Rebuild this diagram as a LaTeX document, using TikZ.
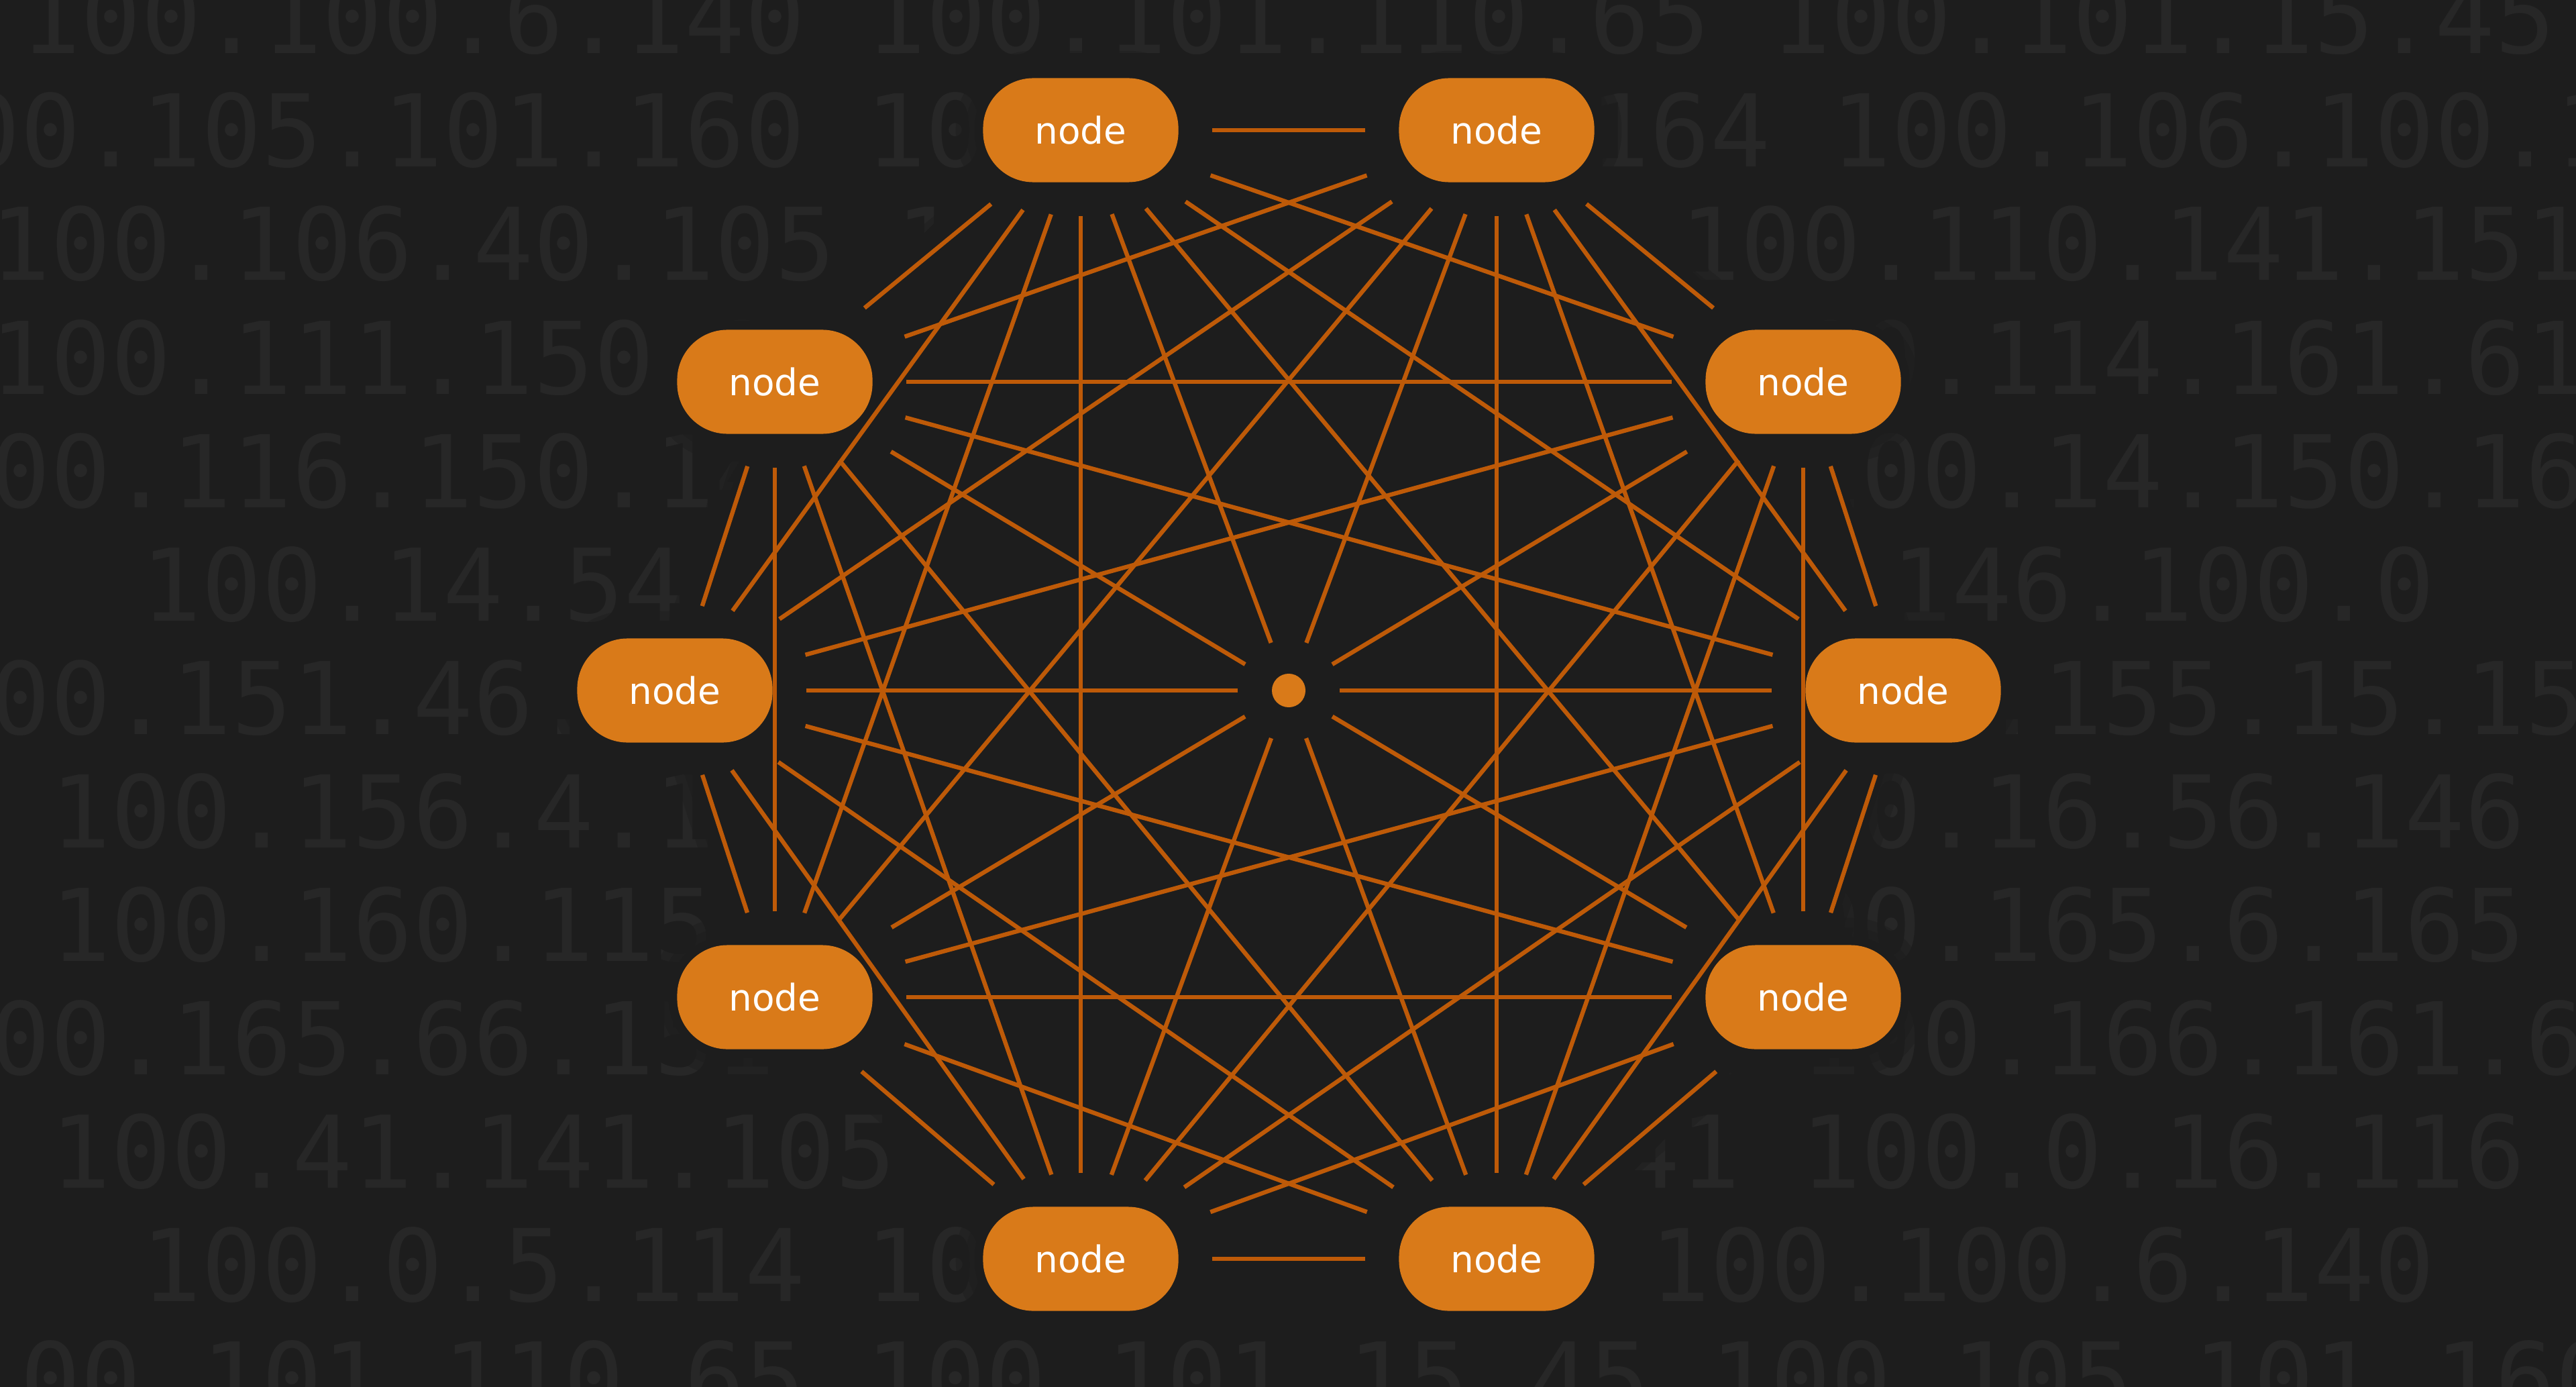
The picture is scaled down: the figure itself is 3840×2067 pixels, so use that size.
\documentclass[tikz,border=0pt]{standalone}
\usepackage{fontspec}
\setmainfont{DejaVu Sans}
\newfontfamily\ipfont{DejaVu Sans Mono}
\definecolor{canvas}{HTML}{1D1D1D}
\definecolor{iptext}{HTML}{272727}
\definecolor{peerfill}{HTML}{D97A19}
\definecolor{linkcol}{HTML}{BE5A08}
\pgfdeclarelayer{back}
\pgfsetlayers{back,main}

\begin{document}
\begin{tikzpicture}[x=0.01cm, y=-0.01cm,
  peer/.style={fill=peerfill, text=white, rounded corners=0.75cm, minimum width=2.91cm, minimum height=1.55cm, inner sep=0pt, font=\fontsize{15.6}{18}\selectfont},
  hub/.style={circle, fill=peerfill, minimum size=0.5cm, inner sep=0pt},
  link/.style={draw=linkcol, line width=1.8pt, shorten >=0.5cm, shorten <=0.5cm},
  iprow/.style={text=iptext, anchor=base, inner sep=0pt, font=\ipfont\fontsize{42.5}{50}\selectfont},
  veil/.style={draw=canvas, line join=round}]
\useasboundingbox (0,0) rectangle (3840,2067);

% ring of peers, clockwise from the right
\node[peer] (n0) at (2837,1029) {node};
\node[peer] (n1) at (2688,1486) {node};
\node[peer] (n2) at (2231,1876) {node};
\node[peer] (n3) at (1611,1876) {node};
\node[peer] (n4) at (1155,1486) {node};
\node[peer] (n5) at (1006,1029) {node};
\node[peer] (n6) at (1155,569) {node};
\node[peer] (n7) at (1611,194) {node};
\node[peer] (n8) at (2231,194) {node};
\node[peer] (n9) at (2688,569) {node};
\node[hub] (hub) at (1921,1029) {};

% full mesh; opposite peers meet at the hub
\foreach \i in {0,...,8}{
  \pgfmathtruncatemacro{\first}{\i+1}
  \foreach \j in {\first,...,9}{
    \pgfmathtruncatemacro{\gap}{\j-\i}
    \ifnum\gap=5\else\draw[link] (n\i) -- (n\j);\fi
  }
}
\foreach \i in {0,...,9} \draw[link] (hub) -- (n\i);

\begin{pgfonlayer}{back}
\fill[canvas] (0,0) rectangle (3840,2067);
\begin{scope}
\clip (0,0) rectangle (3840,2067);
\foreach \row/\ips in {
  0/{100.100.6.140 100.101.110.65 100.101.15.45},
  1/{100.105.101.160 100.105.146.164 100.106.100.12},
  2/{100.106.40.105 100.107.8.93 100.110.141.151},
  3/{100.111.150.27 100.112.3.207 100.114.161.61},
  4/{100.116.150.14 100.119.104.222 100.14.150.169},
  5/{100.14.54.12 100.14.9.83 100.146.100.0},
  6/{100.151.46.120 100.153.208.147 100.155.15.153},
  7/{100.156.4.148 100.158.92.13 100.16.56.146},
  8/{100.160.115.9 100.163.27.88 100.165.6.165},
  9/{100.165.66.151 100.166.104.132 100.166.161.64},
  10/{100.41.141.105 100.54.75.141 100.0.16.116},
  11/{100.0.5.114 100.10.20.74 100.100.6.140},
  12/{100.101.110.65 100.101.15.45 100.105.101.160}}
  \node[iprow] (ip\row) at (1920,{80+169*\row}) {\ips};
\end{scope}
% the addresses fade out under the mesh
\fill[canvas, opacity=0.92] (n0.center) -- (n1.center) -- (n2.south) -- (n3.south) -- (n4.center) -- (n5.center) -- (n6.center) -- (n7.north) -- (n8.north) -- (n9.center) -- cycle;
\foreach \w/\o in {0.8/0.45, 0.5/0.6, 0.24/1}{
  \draw[veil, line width=\w cm, opacity=\o] (n0.center) -- (n1.center) -- (n2.center) -- (n3.center) -- (n4.center) -- (n5.center) -- (n6.center) -- (n7.center) -- (n8.center) -- (n9.center) -- cycle;
  \foreach \k in {0,...,9}
    \draw[veil, line width=\w cm, opacity=\o, fill=canvas, rounded corners=0.75cm] (n\k.south west) rectangle (n\k.north east);
}
\end{pgfonlayer}
\end{tikzpicture}
\end{document}
